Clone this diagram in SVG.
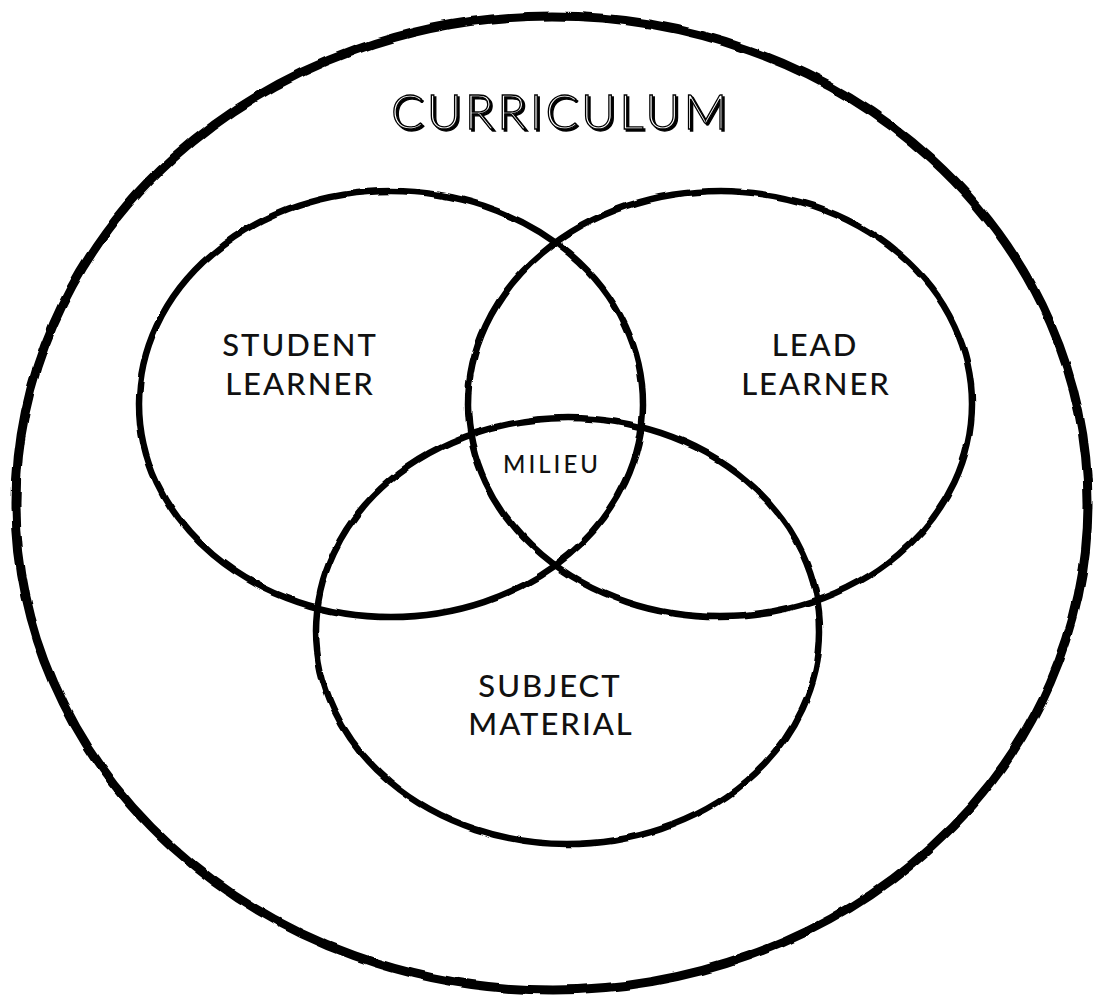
<svg xmlns="http://www.w3.org/2000/svg" width="1094" height="997" viewBox="0 0 1094 997">
  <defs>
    <!-- slight hand-drawn wobble on the ink lines -->
    <filter id="rough" x="-5%" y="-5%" width="110%" height="110%">
      <feTurbulence type="fractalNoise" baseFrequency="0.035" numOctaves="2" seed="4" result="n"/>
      <feDisplacementMap in="SourceGraphic" in2="n" scale="4" xChannelSelector="R" yChannelSelector="G"/>
    </filter>
    <!-- hard offset shadow behind the outlined title -->
    <filter id="shadow" x="-5%" y="-20%" width="110%" height="140%">
      <feOffset in="SourceAlpha" dx="2" dy="2" result="off"/>
      <feFlood flood-color="#000"/>
      <feComposite in2="off" operator="in" result="sh"/>
      <feMerge>
        <feMergeNode in="sh"/>
        <feMergeNode in="SourceGraphic"/>
      </feMerge>
    </filter>
  </defs>
  <style>
    .ring { fill: none; stroke: #000; stroke-width: 6.5; }
    .outer { fill: none; stroke: #000; stroke-width: 9; }
    .lbl { font-family: Lato, "Open Sans", "Liberation Sans", sans-serif; font-weight: 500; fill: #111; text-anchor: middle; }
    .big { font-size: 31px; letter-spacing: 2px; }
    .small { font-size: 24px; letter-spacing: 3px; }
    .title { font-family: Lato, "Open Sans", "Liberation Sans", sans-serif; font-weight: 300; font-size: 48px; letter-spacing: 8px; text-anchor: middle; fill: #fff; stroke: #000; stroke-width: 1.3; }
  </style>
  <rect width="1094" height="997" fill="#fff"/>

  <g id="curriculum">
    <ellipse class="outer" cx="552" cy="503" rx="536" ry="487" filter="url(#rough)"/>
    <text class="title" x="563" y="129" textLength="344" filter="url(#shadow)">CURRICULUM</text>
  </g>

  <g id="student-learner">
    <ellipse class="ring" cx="391" cy="404" rx="252" ry="213" filter="url(#rough)"/>
    <text class="lbl big" x="300" y="356">STUDENT</text>
    <text class="lbl big" x="300" y="395">LEARNER</text>
  </g>

  <g id="lead-learner">
    <ellipse class="ring" cx="720" cy="404" rx="252" ry="213" filter="url(#rough)"/>
    <text class="lbl big" x="815" y="356">LEAD</text>
    <text class="lbl big" x="816" y="395">LEARNER</text>
  </g>

  <g id="subject-material">
    <ellipse class="ring" cx="568" cy="631" rx="252" ry="213" filter="url(#rough)"/>
    <text class="lbl big" x="550" y="697">SUBJECT</text>
    <text class="lbl big" x="551" y="735">MATERIAL</text>
  </g>

  <g id="milieu">
    <text class="lbl small" x="552" y="473">MILIEU</text>
  </g>
</svg>
